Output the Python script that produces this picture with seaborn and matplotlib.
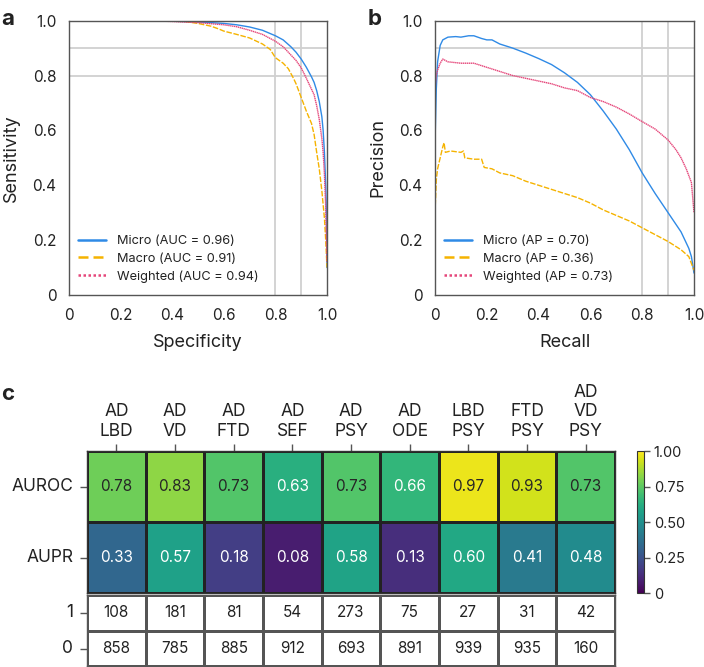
import numpy as np
import pandas as pd
import matplotlib
matplotlib.use("Agg")
import matplotlib.pyplot as plt
from matplotlib.colors import ListedColormap
from matplotlib.lines import Line2D
from matplotlib.ticker import FuncFormatter
import seaborn as sns

# ---------------------------------------------------------------------------
# Data
# ---------------------------------------------------------------------------

# panel a: ROC curves (specificity, sensitivity)
roc_micro_spec = [0, 0.3, 0.4, 0.5, 0.55, 0.6, 0.65, 0.7, 0.75, 0.8, 0.83, 0.86, 0.88, 0.9,
                  0.92, 0.94, 0.95, 0.96, 0.97, 0.98, 0.985, 0.99, 0.995, 0.998, 1.0]
roc_micro_sens = [1.0, 1.0, 0.998, 0.995, 0.993, 0.99, 0.985, 0.977, 0.965, 0.945, 0.93, 0.905,
                  0.885, 0.86, 0.83, 0.795, 0.775, 0.745, 0.705, 0.65, 0.6, 0.52, 0.4, 0.28, 0.1]

roc_weighted_spec = [0, 0.3, 0.4, 0.5, 0.6, 0.65, 0.7, 0.75, 0.8, 0.83, 0.86, 0.88, 0.9, 0.92,
                     0.94, 0.95, 0.96, 0.97, 0.98, 0.985, 0.99, 0.995, 1.0]
roc_weighted_sens = [1.0, 1.0, 0.997, 0.993, 0.985, 0.978, 0.965, 0.95, 0.925, 0.905, 0.875,
                     0.855, 0.828, 0.79, 0.75, 0.73, 0.69, 0.64, 0.57, 0.52, 0.44, 0.32, 0.12]

roc_macro_spec = [0, 0.3, 0.45, 0.5, 0.55, 0.58, 0.6, 0.65, 0.7, 0.75, 0.78, 0.8, 0.83, 0.85,
                  0.87, 0.88, 0.89, 0.9, 0.92, 0.94, 0.95, 0.96, 0.97, 0.98, 0.99, 0.995, 1.0]
roc_macro_sens = [1.0, 1.0, 0.997, 0.99, 0.98, 0.97, 0.962, 0.95, 0.937, 0.915, 0.895, 0.865,
                  0.845, 0.825, 0.79, 0.77, 0.745, 0.72, 0.67, 0.625, 0.585, 0.52, 0.46, 0.38,
                  0.28, 0.2, 0.1]

# panel b: precision-recall curves (recall, precision)
pr_micro_rec = [0, 0.005, 0.01, 0.02, 0.03, 0.05, 0.08, 0.1, 0.13, 0.15, 0.18, 0.2, 0.22, 0.25,
                0.3, 0.35, 0.4, 0.45, 0.5, 0.55, 0.6, 0.65, 0.7, 0.75, 0.8, 0.85, 0.9, 0.95,
                0.98, 0.99, 1.0]
pr_micro_prec = [0.55, 0.75, 0.85, 0.91, 0.93, 0.94, 0.942, 0.94, 0.945, 0.945, 0.935, 0.93,
                 0.93, 0.915, 0.9, 0.882, 0.862, 0.84, 0.81, 0.775, 0.73, 0.67, 0.605, 0.53,
                 0.445, 0.37, 0.3, 0.23, 0.17, 0.14, 0.08]

pr_weighted_rec = [0, 0.005, 0.01, 0.02, 0.03, 0.05, 0.1, 0.15, 0.2, 0.25, 0.3, 0.35, 0.4, 0.45,
                   0.5, 0.55, 0.6, 0.65, 0.7, 0.75, 0.8, 0.85, 0.9, 0.93, 0.95, 0.97, 0.99, 1.0]
pr_weighted_prec = [0.75, 0.8, 0.82, 0.845, 0.86, 0.85, 0.845, 0.845, 0.83, 0.815, 0.8, 0.79,
                    0.78, 0.77, 0.755, 0.745, 0.72, 0.705, 0.685, 0.66, 0.632, 0.605, 0.565,
                    0.53, 0.5, 0.46, 0.41, 0.3]

pr_macro_rec = [0, 0.005, 0.01, 0.02, 0.03, 0.035, 0.04, 0.06, 0.1, 0.11, 0.115, 0.15, 0.18,
                0.19, 0.22, 0.25, 0.3, 0.35, 0.4, 0.45, 0.5, 0.55, 0.6, 0.65, 0.7, 0.75, 0.8,
                0.85, 0.9, 0.95, 0.98, 1.0]
pr_macro_prec = [0.3, 0.42, 0.46, 0.5, 0.54, 0.555, 0.52, 0.525, 0.52, 0.525, 0.5, 0.495, 0.495,
                 0.465, 0.46, 0.445, 0.435, 0.415, 0.4, 0.385, 0.37, 0.355, 0.335, 0.31, 0.29,
                 0.27, 0.245, 0.22, 0.195, 0.165, 0.14, 0.09]

roc_labels = ["Micro (AUC = 0.96)", "Macro (AUC = 0.91)", "Weighted (AUC = 0.94)"]
pr_labels = ["Micro (AP = 0.70)", "Macro (AP = 0.36)", "Weighted (AP = 0.73)"]

# panel c: heatmap
groups = ["AD\nLBD", "AD\nVD", "AD\nFTD", "AD\nSEF", "AD\nPSY", "AD\nODE",
          "LBD\nPSY", "FTD\nPSY", "AD\nVD\nPSY"]
metrics = ["AUROC", "AUPR"]
auroc = [0.78, 0.83, 0.73, 0.63, 0.73, 0.66, 0.97, 0.93, 0.73]
aupr = [0.33, 0.57, 0.18, 0.08, 0.58, 0.13, 0.60, 0.41, 0.48]
count_labels = ["1", "0"]
count_pos = [108, 181, 81, 54, 273, 75, 27, 31, 42]
count_neg = [858, 785, 885, 912, 693, 891, 939, 935, 160]

# ---------------------------------------------------------------------------
# Style
# ---------------------------------------------------------------------------
sns.set_style("white")
plt.rcParams["font.family"] = ["Inter", "DejaVu Sans"]
TXT = "#222222"
AX = "#555555"
plt.rcParams.update({
    "text.color": TXT,
    "axes.labelcolor": TXT,
    "xtick.color": AX,
    "ytick.color": AX,
    "xtick.labelcolor": TXT,
    "ytick.labelcolor": TXT,
    "axes.edgecolor": AX,
})

C_MICRO = "#2f8ae6"
C_MACRO = "#f5b300"
C_WEIGHTED = "#e5467a"
GRID = "#d0d0d0"

fig = plt.figure(figsize=(7.04, 6.67), dpi=100)

ax_a = fig.add_axes([0.098, 0.5577, 0.3665, 0.4113])
ax_b = fig.add_axes([0.6179, 0.5577, 0.3679, 0.4113])


def fmt_tick(v, _):
    if abs(v) < 1e-9:
        return "0"
    return f"{v:.1f}"


def curve_panel(ax, curves, labels, xlabel, ylabel):
    for v in (0.8, 0.9):
        ax.axhline(v, color=GRID, lw=1.3, zorder=0)
        ax.axvline(v, color=GRID, lw=1.3, zorder=0)
    styles = [(C_MICRO, "-"), (C_MACRO, (0, (4, 1.2))), (C_WEIGHTED, (0, (1, 0.4)))]
    for (x, y), (c, ls) in zip(curves, styles):
        sns.lineplot(x=x, y=y, ax=ax, color=c, linestyle=ls, lw=1.0,
                     estimator=None, sort=False)
    handles = [
        Line2D([], [], color=C_MICRO, lw=1.8, ls="-"),
        Line2D([], [], color=C_MACRO, lw=1.8, ls=(0, (4, 2))),
        Line2D([], [], color=C_WEIGHTED, lw=1.8, ls=(0, (1, 1))),
    ]
    ax.legend(handles, labels, loc="lower left", bbox_to_anchor=(0.035, 0.045),
              frameon=False, fontsize=9.2, handlelength=2.2, handletextpad=0.85,
              labelspacing=0.42, borderpad=0, borderaxespad=0)
    ax.set_xlim(0, 1)
    ax.set_ylim(0, 1)
    ticks = np.arange(0, 1.01, 0.2)
    ax.set_xticks(ticks)
    ax.set_yticks(ticks)
    ax.xaxis.set_major_formatter(FuncFormatter(fmt_tick))
    ax.yaxis.set_major_formatter(FuncFormatter(fmt_tick))
    ax.tick_params(labelsize=11, length=4, width=1, direction="out", pad=5)
    ax.set_xlabel(xlabel, fontsize=13, labelpad=8)
    ax.set_ylabel(ylabel, fontsize=13, labelpad=9)
    for s in ax.spines.values():
        s.set_color(AX)
        s.set_linewidth(1.0)


curve_panel(ax_a,
            [(roc_micro_spec, roc_micro_sens), (roc_macro_spec, roc_macro_sens),
             (roc_weighted_spec, roc_weighted_sens)],
            roc_labels, "Specificity", "Sensitivity")
curve_panel(ax_b,
            [(pr_micro_rec, pr_micro_prec), (pr_macro_rec, pr_macro_prec),
             (pr_weighted_rec, pr_weighted_prec)],
            pr_labels, "Recall", "Precision")

# ---------------------------------------------------------------------------
# Heatmap (panel c)
# ---------------------------------------------------------------------------
ax_h = fig.add_axes([0.1236, 0.1109, 0.75, 0.2129])
ax_cb = fig.add_axes([0.9048, 0.1109, 0.0100, 0.2129])
ax_n = fig.add_axes([0.1236, 0.0008, 0.75, 0.1072])

scores = pd.DataFrame([auroc, aupr], index=metrics, columns=groups)
sns.heatmap(scores, ax=ax_h, cmap="viridis", vmin=0, vmax=1, annot=True, fmt=".2f",
            annot_kws={"fontsize": 11}, linewidths=0.8, linecolor="#222222",
            cbar_ax=ax_cb, cbar_kws={"ticks": [0, 0.25, 0.5, 0.75, 1.0]})
ax_h.xaxis.tick_top()
ax_h.set_xticklabels(groups, rotation=0, fontsize=12.5, linespacing=1.2, va="bottom")
ax_h.set_yticklabels(metrics, rotation=0, fontsize=12.5)
ax_h.tick_params(axis="x", top=True, bottom=False, length=5, width=1, pad=3)
ax_h.tick_params(axis="y", left=True, length=5, width=1, pad=5)
ax_h.set_xlabel("")
ax_h.set_ylabel("")
for s in ax_h.spines.values():
    s.set_visible(True)
    s.set_color("#333333")
    s.set_linewidth(1.0)

cbar = ax_h.collections[0].colorbar
cbar.set_ticklabels(["0", "0.25", "0.50", "0.75", "1.00"])
cbar.ax.tick_params(labelsize=10.5, length=4, width=1, pad=3)
cbar.outline.set_edgecolor("#333333")
cbar.outline.set_linewidth(0.8)

counts = pd.DataFrame([count_pos, count_neg], index=count_labels, columns=groups)
sns.heatmap(counts, ax=ax_n, cmap=ListedColormap(["white"]), cbar=False, annot=True,
            fmt="d", annot_kws={"fontsize": 11, "color": TXT},
            linewidths=1.0, linecolor="#555555")
ax_n.set_xticks([])
ax_n.set_yticklabels(count_labels, rotation=0, fontsize=12.5)
ax_n.tick_params(axis="y", left=True, length=5, width=1, pad=5)
ax_n.set_xlabel("")
ax_n.set_ylabel("")
for s in ax_n.spines.values():
    s.set_visible(True)
    s.set_color("#555555")
    s.set_linewidth(1.0)

# panel letters
fig.text(0.002, 0.987, "a", fontsize=16, fontweight="bold", va="top", ha="left")
fig.text(0.522, 0.987, "b", fontsize=16, fontweight="bold", va="top", ha="left")
fig.text(0.002, 0.425, "c", fontsize=16, fontweight="bold", va="top", ha="left")

fig.savefig("out.png", dpi=100)
plt.close(fig)
